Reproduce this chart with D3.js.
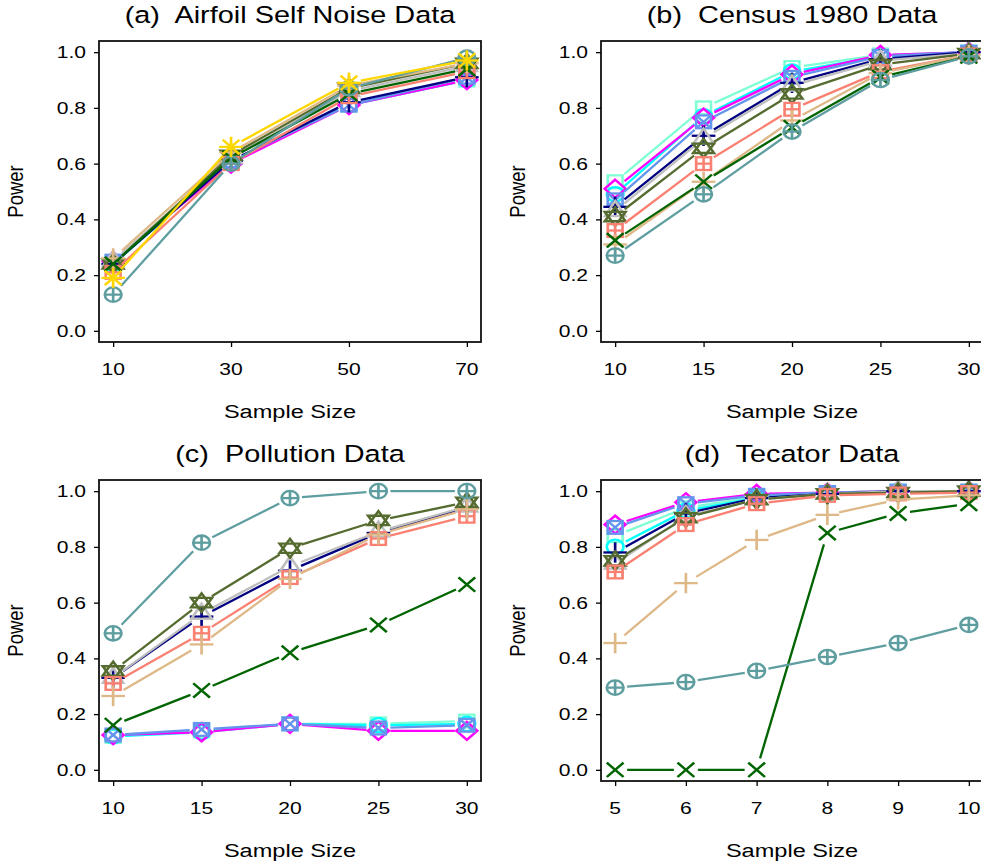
<!DOCTYPE html>
<html><head><meta charset="utf-8">
<script src="https://cdn.jsdelivr.net/npm/d3@7"></script>
<style>body{margin:0;background:#fff} svg{display:block} text{white-space:pre}</style>
</head><body>
<script>
// Methods, in drawing order: colour and R-style plotting symbol (pch)
const methodColors = ["#7FFFD4","#00FFFF","#FF00FF","#6495ED","#000080","#BEBEBE","#556B2F","#FA8072","#DEB887","#006400","#5F9EA0","#FFD700"];
const methodSymbols = [0, 1, 5, 7, 3, 2, 11, 12, 3, 4, 10, 8];

// (a) Airfoil Self Noise Data
const airfoilSizes = [10, 30, 50, 70];
const airfoilPower = [
  [0.24, 0.61, 0.81, 0.90],
  [0.24, 0.61, 0.81, 0.90],
  [0.25, 0.60, 0.81, 0.90],
  [0.25, 0.61, 0.81, 0.91],
  [0.24, 0.61, 0.82, 0.91],
  [0.25, 0.62, 0.86, 0.95],
  [0.24, 0.63, 0.87, 0.96],
  [0.21, 0.60, 0.84, 0.93],
  [0.26, 0.64, 0.88, 0.96],
  [0.24, 0.62, 0.85, 0.94],
  [0.13, 0.60, 0.87, 0.98],
  [0.19, 0.66, 0.89, 0.97]
];

// (b) Census 1980 Data
const censusSizes = [10, 15, 20, 25, 30];
const censusPower = [
  [0.535, 0.80, 0.945, 0.99, 1.0],
  [0.49, 0.77, 0.93, 0.985, 1.0],
  [0.51, 0.765, 0.92, 0.99, 1.0],
  [0.47, 0.75, 0.91, 0.985, 1.0],
  [0.445, 0.70, 0.89, 0.975, 1.0],
  [0.43, 0.69, 0.88, 0.97, 0.995],
  [0.41, 0.655, 0.85, 0.955, 0.995],
  [0.36, 0.60, 0.795, 0.93, 0.99],
  [0.31, 0.535, 0.755, 0.925, 0.99],
  [0.325, 0.535, 0.73, 0.91, 0.985],
  [0.27, 0.49, 0.715, 0.90, 0.985]
];

// (c) Pollution Data
const pollutionSizes = [10, 15, 20, 25, 30];
const pollutionPower = [
  [0.12, 0.14, 0.165, 0.165, 0.175],
  [0.12, 0.135, 0.165, 0.16, 0.165],
  [0.125, 0.135, 0.165, 0.14, 0.14],
  [0.125, 0.145, 0.165, 0.15, 0.16],
  [0.33, 0.55, 0.715, 0.85, 0.94],
  [0.33, 0.56, 0.73, 0.855, 0.945],
  [0.355, 0.60, 0.795, 0.895, 0.96],
  [0.31, 0.49, 0.69, 0.83, 0.91],
  [0.265, 0.45, 0.685, 0.845, 0.935],
  [0.16, 0.285, 0.42, 0.52, 0.665],
  [0.49, 0.815, 0.975, 1.0, 1.0]
];

// (d) Tecator Data
const tecatorSizes = [5, 6, 7, 8, 9, 10];
const tecatorPower = [
  [0.84, 0.94, 0.98, 0.995, 1.0, 1.0],
  [0.80, 0.93, 0.975, 0.99, 1.0, 1.0],
  [0.88, 0.96, 0.99, 0.995, 1.0, 1.0],
  [0.87, 0.955, 0.985, 0.995, 1.0, 1.0],
  [0.78, 0.92, 0.975, 0.99, 1.0, 1.0],
  [0.74, 0.91, 0.97, 0.99, 1.0, 1.0],
  [0.75, 0.905, 0.97, 0.99, 0.995, 1.0],
  [0.71, 0.88, 0.955, 0.985, 0.99, 0.995],
  [0.455, 0.67, 0.825, 0.915, 0.97, 0.985],
  [0, 0, 0, 0.85, 0.92, 0.955],
  [0.295, 0.315, 0.355, 0.405, 0.455, 0.52]
];

const powerTicks = [0, 0.2, 0.4, 0.6, 0.8, 1.0];

const panels = [
  {title: "(a)  Airfoil Self Noise Data", sizes: airfoilSizes, power: airfoilPower, left: 99, top: 41},
  {title: "(b)  Census 1980 Data", sizes: censusSizes, power: censusPower, left: 601, top: 41},
  {title: "(c)  Pollution Data", sizes: pollutionSizes, power: pollutionPower, left: 99, top: 480},
  {title: "(d)  Tecator Data", sizes: tecatorSizes, power: tecatorPower, left: 601, top: 480}
];

const W = 981, H = 868;
const boxW = 382, boxH = 301;
const SX = 1.16;         // horizontal stretch of symbols
const TSX = 1.24;        // horizontal stretch of glyphs
const RAD = 7.2;         // symbol radius
const GAP = 12;          // gap left around each point on the connecting lines
const LW = 2.3;
const FONT = "'Liberation Sans', Arial, Helvetica, sans-serif";

const svg = d3.select("body").append("svg").attr("width", W).attr("height", H)
  .style("font-family", FONT);

function text(g, str, x, y, size, anchor, rotate) {
  g.append("text")
    .attr("transform", `translate(${x},${y}) scale(${TSX},1)` + (rotate ? " rotate(-90)" : ""))
    .attr("text-anchor", anchor)
    .attr("font-size", size)
    .attr("fill", "#000")
    .text(str);
}

// R-style plotting symbols
function symbol(g, pch, color) {
  const s = g.append("g").attr("fill", "none").attr("stroke", color).attr("stroke-width", LW);
  const sq = RAD * 0.8862269, dm = RAD * 1.2533141;
  const tr = RAD * 1.5551203 * 0.9, tx = RAD * 1.3467736 * 0.9, ty = RAD * 0.7775602 * 0.9;
  const line = (x1, y1, x2, y2) => s.append("line").attr("x1", x1).attr("y1", y1).attr("x2", x2).attr("y2", y2);
  const poly = pts => s.append("polygon").attr("points", pts.map(p => p.join(",")).join(" "));
  const square = () => s.append("rect").attr("x", -sq).attr("y", -sq).attr("width", 2 * sq).attr("height", 2 * sq);
  switch (pch) {
    case 0: square(); break;
    case 1: s.append("circle").attr("r", RAD); break;
    case 2: poly([[0, -tr], [tx, ty], [-tx, ty]]); break;
    case 3: { const c = Math.SQRT2 * RAD; line(-c, 0, c, 0); line(0, -c, 0, c); break; }
    case 4: line(-RAD, -RAD, RAD, RAD); line(-RAD, RAD, RAD, -RAD); break;
    case 5: poly([[0, -dm], [dm, 0], [0, dm], [-dm, 0]]); break;
    case 7: square(); line(-sq, -sq, sq, sq); line(-sq, sq, sq, -sq); break;
    case 8: { const c = Math.SQRT2 * RAD; line(-RAD, -RAD, RAD, RAD); line(-RAD, RAD, RAD, -RAD);
            line(-c, 0, c, 0); line(0, -c, 0, c); break; }
    case 10: s.append("circle").attr("r", RAD); line(-RAD, 0, RAD, 0); line(0, -RAD, 0, RAD); break;
    case 11: { const r = RAD * 1.3, yc = RAD * 0.65, xc = RAD * 1.25;
            poly([[0, -r], [xc, yc], [-xc, yc]]);
            poly([[0, r], [xc, -yc], [-xc, -yc]]); break; }
    case 12: square(); line(-sq, 0, sq, 0); line(0, -sq, 0, sq); break;
  }
}

panels.forEach((p, pi) => {
  const n = p.sizes.length;
  const span = p.sizes[n - 1] - p.sizes[0];
  const x = d3.scaleLinear()
    .domain([p.sizes[0] - 0.04 * span, p.sizes[n - 1] + 0.04 * span])
    .range([p.left, p.left + boxW]);
  const y = d3.scaleLinear().domain([-0.04, 1.04]).range([p.top + boxH, p.top]);

  const g = svg.append("g");
  const clipId = "clip" + pi;
  g.append("clipPath").attr("id", clipId).append("rect")
    .attr("x", p.left).attr("y", p.top).attr("width", boxW).attr("height", boxH);

  const plot = g.append("g").attr("clip-path", `url(#${clipId})`);

  p.power.forEach((vals, si) => {
    const color = methodColors[si];
    const pts = vals.map((v, i) => [x(p.sizes[i]), y(v)]);
    const sg = plot.append("g");
    // connecting segments, broken around each point
    for (let i = 0; i < pts.length - 1; i++) {
      const [x1, y1] = pts[i], [x2, y2] = pts[i + 1];
      const len = Math.hypot(x2 - x1, y2 - y1);
      if (len <= 2 * GAP) continue;
      const ux = (x2 - x1) / len, uy = (y2 - y1) / len;
      sg.append("line")
        .attr("x1", x1 + ux * GAP).attr("y1", y1 + uy * GAP)
        .attr("x2", x2 - ux * GAP).attr("y2", y2 - uy * GAP)
        .attr("stroke", color).attr("stroke-width", LW);
    }
    pts.forEach(([px, py]) => {
      const mg = sg.append("g").attr("transform", `translate(${px},${py}) scale(${SX},1)`);
      symbol(mg, methodSymbols[si], color);
    });
  });

  // frame
  g.append("rect").attr("x", p.left).attr("y", p.top).attr("width", boxW).attr("height", boxH)
    .attr("fill", "none").attr("stroke", "#111").attr("stroke-width", 1.8);

  // x axis
  const xAxis = d3.axisBottom(x).tickValues(p.sizes).tickSize(5).tickSizeOuter(0).tickFormat(() => "");
  const xa = g.append("g").attr("transform", `translate(0,${p.top + boxH})`).call(xAxis);
  xa.select(".domain").remove();
  xa.selectAll("line").attr("stroke", "#000").attr("stroke-width", 1.3);
  p.sizes.forEach(v => text(g, String(v), x(v), p.top + boxH + 33, 17, "middle"));

  // y axis
  const yAxis = d3.axisLeft(y).tickValues(powerTicks).tickSize(5).tickSizeOuter(0).tickFormat(() => "");
  const ya = g.append("g").attr("transform", `translate(${p.left},0)`).call(yAxis);
  ya.select(".domain").remove();
  ya.selectAll("line").attr("stroke", "#000").attr("stroke-width", 1.3);
  powerTicks.forEach(v => text(g, v.toFixed(1), p.left - 13, y(v) + 6, 17, "end"));

  // labels
  const cx = p.left + boxW / 2;
  text(g, p.title, cx, p.top - 18, 23.3, "middle");
  text(g, "Sample Size", cx, p.top + boxH + 76, 19, "middle");
  text(g, "Power", p.left - 76, p.top + boxH / 2, 18.5, "middle", true);
});
</script>
</body></html>
